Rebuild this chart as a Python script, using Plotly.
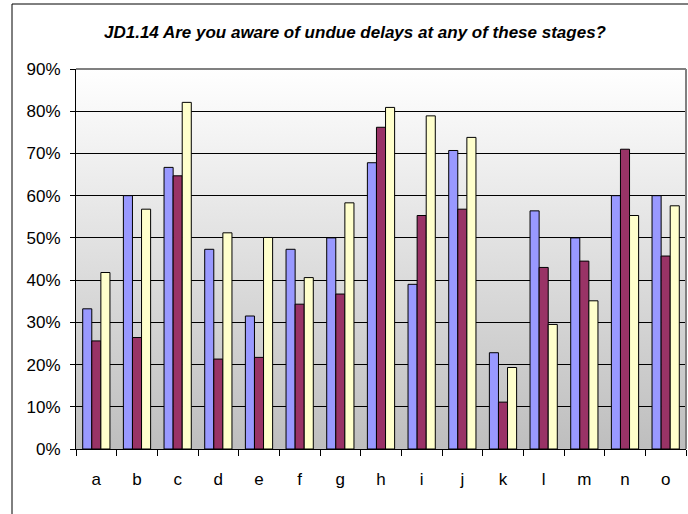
import base64
import plotly.graph_objects as go

categories = ["a", "b", "c", "d", "e", "f", "g", "h", "i", "j", "k", "l", "m", "n", "o"]
series1 = [33.2, 60.0, 66.7, 47.3, 31.5, 47.3, 50.0, 67.8, 39.0, 70.7, 22.8, 56.4, 50.0, 60.0, 60.0]
series2 = [25.6, 26.4, 64.7, 21.3, 21.7, 34.3, 36.7, 76.2, 55.3, 56.8, 11.1, 43.0, 44.5, 71.0, 45.7]
series3 = [41.8, 56.8, 82.1, 51.2, 50.1, 40.6, 58.3, 80.9, 78.9, 73.8, 19.3, 29.5, 35.1, 55.3, 57.6]
series_names = ["Series 1", "Series 2", "Series 3"]
colors = ["#9999FF", "#993366", "#FFFFCC"]
title_text = "JD1.14 Are you aware of undue delays at any of these stages?"

fig = go.Figure()
for name, vals, col in zip(series_names, [series1, series2, series3], colors):
    fig.add_trace(go.Bar(
        x=categories, y=vals, name=name,
        marker=dict(color=col, line=dict(color="#000000", width=1)),
    ))

svg = ('<svg xmlns="http://www.w3.org/2000/svg" width="100" height="100" preserveAspectRatio="none">'
       '<defs><linearGradient id="g" x1="0" y1="0" x2="0" y2="1">'
       '<stop offset="0" stop-color="#FFFFFF"/><stop offset="1" stop-color="#BEBEBE"/>'
       '</linearGradient></defs><rect width="100" height="100" fill="url(#g)"/></svg>')
src = "data:image/svg+xml;base64," + base64.b64encode(svg.encode()).decode()

font_family = "Liberation Sans, Arial, sans-serif"
fig.update_layout(
    width=688, height=514,
    margin=dict(l=76, r=2, t=69, b=65),
    paper_bgcolor="#FFFFFF",
    plot_bgcolor="rgba(0,0,0,0)",
    showlegend=False,
    barmode="group",
    bargap=0.33,
    bargroupgap=0,
    title=dict(
        text="<b><i>" + title_text + "</i></b>",
        x=355 / 688, xanchor="center", xref="container",
        y=1 - 32 / 514, yanchor="middle", yref="container",
        font=dict(family=font_family, size=17, color="#000000"),
    ),
    font=dict(family=font_family, size=17, color="#000000"),
    images=[dict(source=src, xref="paper", yref="paper", x=0, y=1, sizex=1, sizey=1,
                 sizing="stretch", layer="below", xanchor="left", yanchor="top")],
    shapes=[
        dict(type="rect", xref="paper", yref="paper", x0=(12 - 76) / 610, x1=1.2,
             y0=-0.4, y1=(449 - 4) / 380, line=dict(color="#000000", width=1), layer="below"),
        dict(type="line", xref="paper", yref="paper", x0=0, x1=1, y0=1, y1=1,
             line=dict(color="#808080", width=2)),
        dict(type="line", xref="paper", yref="paper", x0=1, x1=1, y0=0, y1=1,
             line=dict(color="#808080", width=2)),
    ],
)
fig.update_xaxes(
    type="category",
    showline=True, linecolor="#000000", linewidth=1,
    ticks="outside", tickson="boundaries", ticklen=6, tickcolor="#000000",
    showgrid=False, tickfont=dict(size=17),
    ticklabelstandoff=15,
)
fig.update_yaxes(
    range=[0, 90], dtick=10, ticksuffix="%",
    showline=True, linecolor="#000000", linewidth=1,
    ticks="outside", ticklen=5, tickcolor="#000000",
    showgrid=True, gridcolor="#000000", gridwidth=1,
    zeroline=False, tickfont=dict(size=17),
    ticklabelstandoff=6,
)
fig.write_html(
    "out.html",
    config={"displayModeBar": False},
    post_script="document.body.style.margin='0';document.body.style.overflow='hidden';",
)
